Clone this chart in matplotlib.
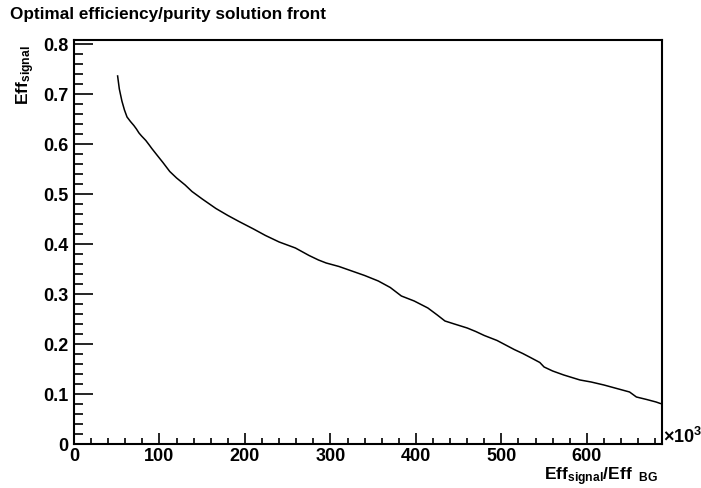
import matplotlib
import matplotlib.pyplot as plt
from matplotlib.ticker import MultipleLocator, FuncFormatter

matplotlib.use("Agg")
plt.rcParams['font.family'] = ['Liberation Sans', 'DejaVu Sans']
plt.rcParams['font.weight'] = 'bold'
plt.rcParams['mathtext.fontset'] = 'custom'
plt.rcParams['mathtext.rm'] = 'Liberation Sans:bold'
plt.rcParams['mathtext.bf'] = 'Liberation Sans:bold'
plt.rcParams['mathtext.it'] = 'Liberation Sans:bold'

# solution front, x in units of 10^3
eff_ratio = [51, 53, 56, 59, 62, 66, 70, 73, 76, 79, 84, 88, 91, 97, 104, 112, 120,
             130, 138, 150, 166, 180, 193, 210, 224, 240, 259, 275, 286, 295, 310,
             325, 340, 356, 370, 383, 398, 414, 425, 434, 445, 460, 470, 480, 495,
             505, 515, 525, 534, 545, 550, 560, 573, 592, 605, 620, 635, 650, 658,
             670, 681, 686]
eff_signal = [0.736, 0.71, 0.686, 0.668, 0.654, 0.645, 0.637, 0.63, 0.622, 0.616,
              0.607, 0.598, 0.591, 0.578, 0.563, 0.545, 0.532, 0.518, 0.505, 0.49,
              0.471, 0.457, 0.445, 0.43, 0.417, 0.404, 0.392, 0.377, 0.368, 0.362,
              0.355, 0.346, 0.337, 0.326, 0.313, 0.296, 0.286, 0.272, 0.258, 0.246,
              0.240, 0.232, 0.225, 0.217, 0.207, 0.198, 0.189, 0.181, 0.173, 0.163,
              0.154, 0.146, 0.138, 0.128, 0.124, 0.118, 0.111, 0.104, 0.094, 0.089,
              0.084, 0.081]

fig = plt.figure(figsize=(7.01, 4.89), dpi=100)
ax = fig.add_axes([0.1056, 0.09, 0.8388, 0.8262])

ax.plot([v * 1e3 for v in eff_ratio], eff_signal, color='black', lw=1.1)

ax.set_xlim(0, 688e3)
ax.set_ylim(0, 0.808)
ax.xaxis.set_major_locator(MultipleLocator(100e3))
ax.xaxis.set_minor_locator(MultipleLocator(20e3))
ax.yaxis.set_major_locator(MultipleLocator(0.1))
ax.yaxis.set_minor_locator(MultipleLocator(0.02))
ax.xaxis.set_major_formatter(FuncFormatter(lambda v, p: f"{v / 1e3:g}"))
ax.yaxis.set_major_formatter(FuncFormatter(lambda v, p: f"{v:g}"))

ax.tick_params(axis='both', which='both', direction='in', top=False, right=False,
               labelsize=13, width=1.2)
ax.tick_params(axis='x', which='major', length=8, pad=2)
ax.tick_params(axis='x', which='minor', length=4.3)
ax.tick_params(axis='y', which='major', length=14, pad=4)
ax.tick_params(axis='y', which='minor', length=6.5)
for lbl in ax.get_xticklabels() + ax.get_yticklabels():
    lbl.set_fontweight('bold')
for s in ax.spines.values():
    s.set_linewidth(1.5)

fig.text(0.014, 0.985, 'Optimal efficiency/purity solution front', ha='left', va='top',
         fontsize=12.3, fontweight='bold')
ax.text(-0.083, 0.99, r'$\mathrm{Eff}_{\mathrm{signal}}$', transform=ax.transAxes,
        rotation=90, ha='center', va='top', fontsize=12.5)
ax.text(0.993, -0.088, r'$\mathrm{Eff}_{\mathrm{signal}}/\mathrm{Eff}_{\ \ \mathrm{BG}}$',
        transform=ax.transAxes, ha='right', va='baseline', fontsize=12.5)
ax.text(1.002, 0.005, r'$\times 10^{3}$', transform=ax.transAxes, ha='left',
        va='baseline', fontsize=13)

fig.savefig('out.png', dpi=100)
